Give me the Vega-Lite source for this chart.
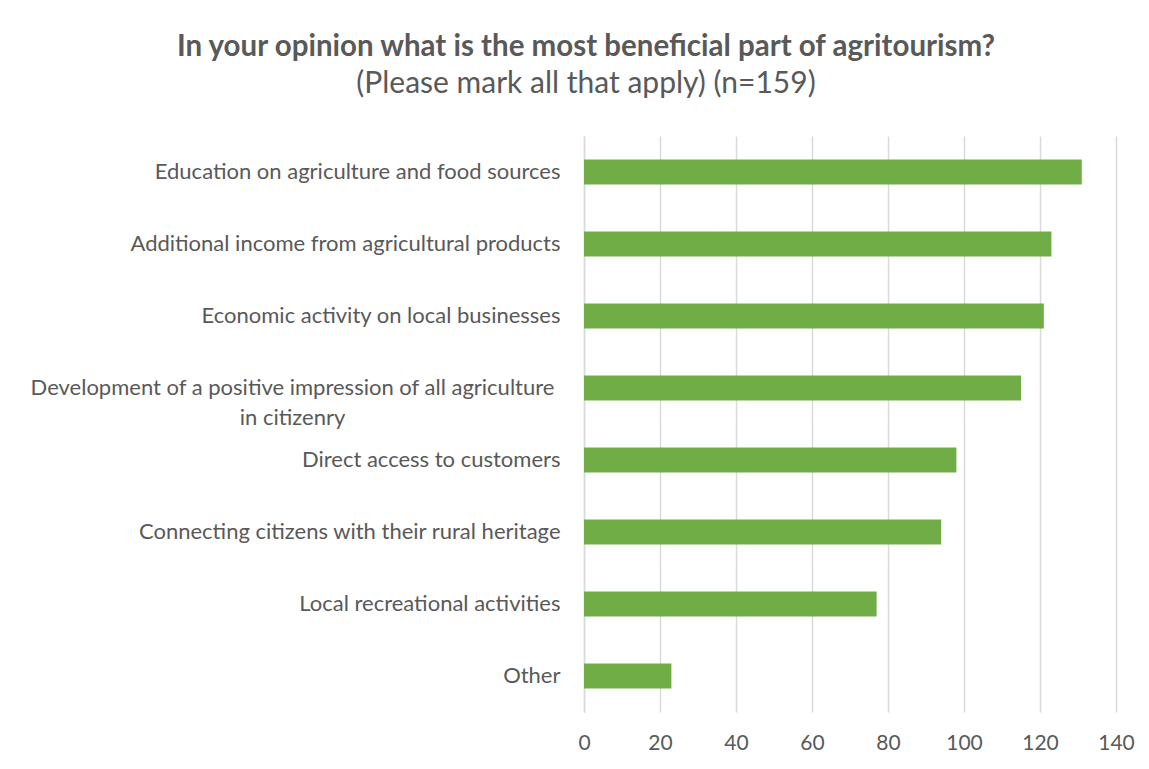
{
  "$schema": "https://vega.github.io/schema/vega-lite/v6.json",
  "autosize": {"type": "none"},
  "padding": {"left": 584, "top": 136, "right": 33, "bottom": 57},
  "width": 532,
  "height": 576,
  "background": "white",
  "title": {
    "text": "In your opinion what is the most beneficial part of agritourism?",
    "subtitle": "(Please mark all that apply) (n=159)",
    "anchor": "middle",
    "frame": "bounds",
    "dx": 4,
    "font": "Lato",
    "fontSize": 29.5,
    "fontWeight": "bold",
    "color": "#595959",
    "subtitleFont": "Lato",
    "subtitleFontSize": 30,
    "subtitleColor": "#595959",
    "subtitlePadding": 7,
    "offset": 36
  },
  "data": {
    "values": [
      {"category": "Education on agriculture and food sources", "count": 131},
      {"category": "Additional income from agricultural products", "count": 123},
      {"category": "Economic activity on local businesses", "count": 121},
      {"category": "Development of a positive impression of all agriculture in citizenry", "count": 115},
      {"category": "Direct access to customers", "count": 98},
      {"category": "Connecting citizens with their rural heritage", "count": 94},
      {"category": "Local recreational activities", "count": 77},
      {"category": "Other", "count": 23}
    ]
  },
  "mark": {"type": "bar", "color": "#70AD47"},
  "encoding": {
    "y": {
      "field": "category",
      "type": "nominal",
      "sort": null,
      "title": null,
      "scale": {"paddingInner": 0.65, "paddingOuter": 0.325},
      "axis": {
        "domain": true,
        "domainColor": "#d9d9d9",
        "domainWidth": 1.5,
        "ticks": false,
        "grid": false,
        "labelFont": "Lato",
        "labelFontSize": 22,
        "labelColor": "#595959",
        "labelLimit": 600,
        "labelLineHeight": 30,
        "labelAlign": {"condition": {"test": "indexof(datum.value, 'Development') == 0", "value": "center"}, "value": "right"},
        "labelPadding": {"condition": {"test": "indexof(datum.value, 'Development') == 0", "value": 292}, "value": 24},
        "labelExpr": "indexof(datum.value, 'Development') == 0 ? ['Development of a positive impression of all agriculture', 'in citizenry'] : datum.value"
      }
    },
    "x": {
      "field": "count",
      "type": "quantitative",
      "title": null,
      "scale": {"domain": [0, 140], "nice": false},
      "axis": {
        "values": [0, 20, 40, 60, 80, 100, 120, 140],
        "domain": false,
        "ticks": false,
        "grid": true,
        "gridColor": "#d9d9d9",
        "gridWidth": 1.5,
        "labelFlush": false,
        "labelFont": "Lato",
        "labelFontSize": 21,
        "labelColor": "#595959",
        "labelPadding": 20
      }
    }
  },
  "config": {"view": {"stroke": null}}
}
